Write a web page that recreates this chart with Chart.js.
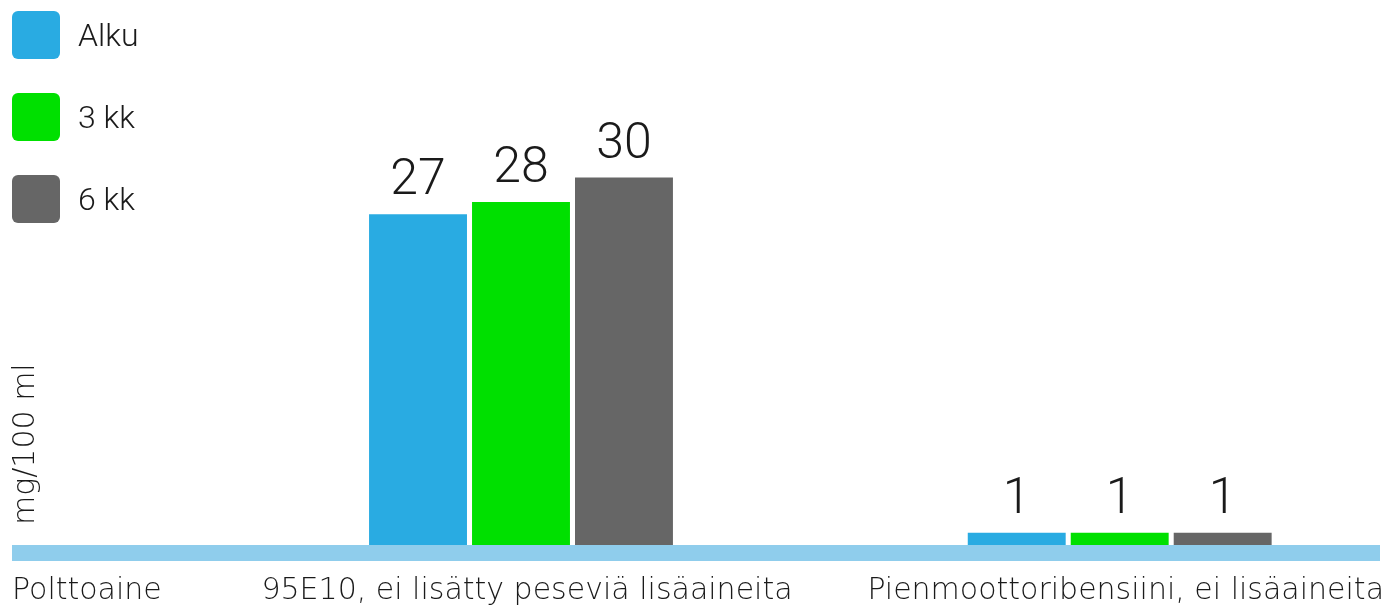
<!DOCTYPE html>
<html lang="fi">
<head>
<meta charset="utf-8">
<title>Höyrystymisjäämä</title>
<script src="https://cdn.jsdelivr.net/npm/chart.js@4.4.1/dist/chart.umd.min.js"></script>
<style>
  html, body { margin: 0; padding: 0; background: #fff; }
  body { width: 1388px; height: 605px; overflow: hidden; position: relative; font-family: Roboto, "Liberation Sans", sans-serif; font-weight: 300; }
  #wrap { position: absolute; left: 0; top: 0; width: 1388px; height: 605px; }
  #legend { position: absolute; left: 12px; top: 11px; margin: 0; padding: 0; list-style: none; }
  #legend li { display: flex; align-items: center; height: 48px; margin-bottom: 34px; }
  #legend .box { width: 48px; height: 48px; border-radius: 6px; margin-right: 18px; }
  #legend .txt { font-size: 32px; color: #1a1a1a; }
</style>
</head>
<body>
<div id="wrap"><canvas id="myChart" width="1388" height="605"></canvas></div>
<ul id="legend"></ul>
<script>
// fuel types on the x axis, header text for the label row
const categories = ['95E10, ei lisätty peseviä lisäaineita', 'Pienmoottoribensiini, ei lisäaineita'];
const axisHeader = 'Polttoaine';
const unitLabel = 'mg/100 ml';

// measured gum content per sampling time
const seriesNames = ['Alku', '3 kk', '6 kk'];
const alku = [27, 1];
const kk3 = [28, 1];
const kk6 = [30, 1];

const colors = ['#29abe2', '#00e000', '#666666'];
const valueFont = 'Roboto, "Liberation Sans", sans-serif';
const axisFont = '"DejaVu Sans", sans-serif';
const axisFontSize = 30;
const tickPad = 23;
const bandWidth = 16;

const toPoints = (values) => values.map((v, i) => ({ x: i + 1, y: v }));

// numbers above each bar
const valueLabels = {
  id: 'valueLabels',
  afterDatasetsDraw(chart) {
    const { ctx } = chart;
    ctx.save();
    ctx.font = `300 50px ${valueFont}`;
    ctx.fillStyle = '#1a1a1a';
    ctx.textAlign = 'center';
    ctx.textBaseline = 'alphabetic';
    chart.data.datasets.forEach((ds, i) => {
      chart.getDatasetMeta(i).data.forEach((bar, j) => {
        ctx.fillText(ds.data[j].y, bar.x, bar.y - 20);
      });
    });
    ctx.restore();
  }
};

// left header on the label row and the rotated unit text
const sideTexts = {
  id: 'sideTexts',
  afterDraw(chart) {
    const { ctx, chartArea } = chart;
    const xScale = chart.scales.x;
    ctx.save();
    ctx.font = `200 ${axisFontSize}px ${axisFont}`;
    ctx.fillStyle = '#1a1a1a';
    ctx.textBaseline = 'middle';
    ctx.textAlign = 'left';
    ctx.fillText(axisHeader, chartArea.left - bandWidth / 2, xScale.top + tickPad + axisFontSize / 2);

    ctx.translate(26, 525);
    ctx.rotate(-Math.PI / 2);
    ctx.fillText(unitLabel, 0, 0);
    ctx.restore();
  }
};

const ctx = document.getElementById('myChart').getContext('2d');
const chart = new Chart(ctx, {
  type: 'bar',
  data: {
    datasets: [
      { label: seriesNames[0], data: toPoints(alku), backgroundColor: colors[0] },
      { label: seriesNames[1], data: toPoints(kk3), backgroundColor: colors[1] },
      { label: seriesNames[2], data: toPoints(kk6), backgroundColor: colors[2] }
    ]
  },
  options: {
    responsive: false,
    animation: false,
    categoryPercentage: 0.516,
    barPercentage: 0.951,
    layout: { autoPadding: false, padding: { left: 20, right: 9, top: 0, bottom: -24 } },
    scales: {
      x: {
        type: 'linear',
        offset: false,
        min: 0.1632,
        max: 2.4331,
        afterBuildTicks(scale) {
          scale.ticks = categories.map((c, i) => ({ value: i + 1 }));
        },
        // long labels may run to the canvas edge, keep the full plot width
        afterFit(scale) {
          scale.paddingLeft = 0;
          scale.paddingRight = 0;
        },
        ticks: {
          autoSkip: false,
          maxRotation: 0,
          padding: tickPad,
          labelOffset: 6,
          color: '#1a1a1a',
          font: { family: axisFont, size: axisFontSize, weight: 200, lineHeight: 1 },
          callback: (value) => categories[value - 1]
        },
        grid: { display: false, drawTicks: false },
        border: { display: true, color: '#8fcdec', width: bandWidth }
      },
      y: {
        display: false,
        min: -0.65,
        max: 44.5
      }
    },
    plugins: {
      legend: { display: false },
      tooltip: { enabled: false }
    }
  },
  plugins: [valueLabels, sideTexts]
});

// legend list built from the datasets
const legendEl = document.getElementById('legend');
chart.data.datasets.forEach((ds) => {
  const li = document.createElement('li');
  const box = document.createElement('span');
  box.className = 'box';
  box.style.background = ds.backgroundColor;
  const txt = document.createElement('span');
  txt.className = 'txt';
  txt.textContent = ds.label;
  li.appendChild(box);
  li.appendChild(txt);
  legendEl.appendChild(li);
});
</script>
</body>
</html>
